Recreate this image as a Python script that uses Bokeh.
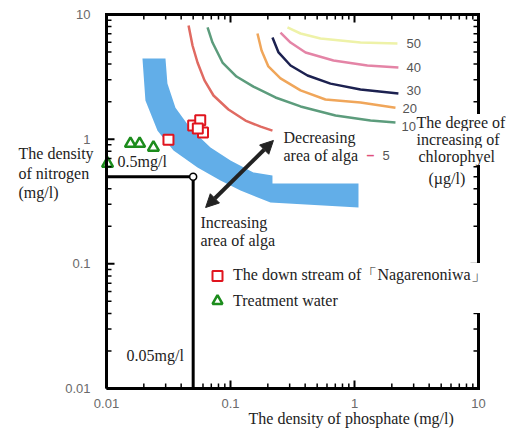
from bokeh.plotting import figure
from bokeh.models import (Range1d, LogAxis, LogTicker, CustomJSTickFormatter, Label,
                          Legend, LegendItem, Arrow, NormalHead, ColumnDataSource)
from bokeh.embed import file_html
from bokeh.resources import INLINE

# ---------------- data ----------------
# thresholds
n_limit = 0.5    # mg/l nitrogen
p_limit = 0.05   # mg/l phosphate

# measured points
down_x = [0.0316, 0.0500, 0.0570, 0.0600, 0.0545]
down_y = [0.99, 1.29, 1.42, 1.13, 1.22]
treat_x = [0.0102, 0.0156, 0.0185, 0.0239]
treat_y = [0.637, 0.92, 0.92, 0.857]
series_names = ["The down stream of「Nagarenoniwa」", "Treatment water"]

# chlorophyll increase contours (ug/l)
c5_x = [0.0459, 0.0494, 0.0542, 0.0617, 0.0729, 0.0963, 0.132, 0.175, 0.218]
c5_y = [8.16, 5.64, 4.12, 2.96, 2.24, 1.73, 1.41, 1.26, 1.17]
c10_x = [0.0653, 0.0716, 0.0862, 0.1118, 0.153, 0.2305, 0.367, 0.703, 1.346, 2.14]
c10_y = [7.87, 5.96, 4.12, 3.18, 2.64, 2.16, 1.83, 1.55, 1.41, 1.36]
c20_x = [0.165, 0.178, 0.202, 0.253, 0.367, 0.583, 1.117, 2.14]
c20_y = [7.04, 5.14, 3.83, 3.07, 2.46, 2.08, 1.97, 1.79]
c30_x = [0.218, 0.244, 0.305, 0.418, 0.640, 1.117, 2.26]
c30_y = [6.54, 4.96, 3.90, 3.24, 2.79, 2.50, 2.32]
c40_x = [0.253, 0.305, 0.403, 0.677, 1.27, 2.26]
c40_y = [7.17, 5.96, 4.96, 4.28, 3.90, 3.76]
c50_x = [0.288, 0.367, 0.532, 1.117, 2.22]
c50_y = [7.87, 7.04, 6.42, 5.96, 5.85]
contour_levels = ["5", "10", "20", "30", "40", "50"]

# boundary band (outer edge then inner edge)
band_x = [0.0299, 0.0310, 0.0360, 0.0476, 0.069, 0.100, 0.153, 0.218, 0.218, 1.077,
          1.077, 0.210, 0.1204, 0.0830, 0.0542, 0.0347, 0.0258, 0.0206, 0.0195]
band_y = [4.44, 2.79, 1.79, 1.22, 0.857, 0.675, 0.541, 0.512, 0.441, 0.441,
          0.283, 0.310, 0.387, 0.466, 0.593, 0.811, 1.17, 2.04, 4.44]

# double arrow between increasing / decreasing areas
arrow_x = [0.063, 0.222]
arrow_y = [0.283, 0.976]

# axes
axis_min, axis_max = 0.01, 10.0
tick_labels = ["0.01", "0.1", "1", "10"]
major_ticks = [0.01, 0.1, 1.0, 10.0]
decade_starts = [0.01, 0.1, 1.0]
mantissas = [2, 3, 4, 5, 6, 7, 8, 9]

# ---------------- layout constants (page pixels) ----------------
W, H = 521, 430
AX_L, AX_R = 106, 478    # x pixel of 0.01 and 10
AX_T, AX_B = 14, 388     # y pixel of 10 and 0.01
PX_DEC_X = (AX_R - AX_L) / 3.0
PX_DEC_Y = (AX_B - AX_T) / 3.0
MAJOR_LEN, MINOR_LEN = 8, 5

def dx(px):
    return axis_min * 10 ** ((px - AX_L) / PX_DEC_X)

def dy(py):
    return axis_min * 10 ** ((AX_B - py) / PX_DEC_Y)

SERIF = "Liberation Serif"
SANS = "Liberation Sans"

# frame covers the whole canvas so that texts outside the chart box are not clipped
p = figure(width=W, height=H, x_axis_type="log", y_axis_type="log",
           x_axis_location=None, y_axis_location=None,
           x_range=Range1d(dx(0), dx(W)), y_range=Range1d(dy(H), dy(0)),
           output_backend="svg", toolbar_location=None, min_border=0)
p.outline_line_color = None
p.grid.visible = False

fmt = CustomJSTickFormatter(args=dict(labels=tick_labels),
                            code="const i = Math.round(Math.log10(tick)) + 2; return (i >= 0 && i < labels.length) ? labels[i] : '';")

def label_axis(side):
    ax = LogAxis(ticker=LogTicker(), formatter=fmt, fixed_location=axis_min,
                 bounds=(axis_min, axis_max))
    ax.axis_line_width = 3
    ax.axis_line_color = "black"
    ax.major_tick_in = ax.major_tick_out = 0
    ax.minor_tick_in = ax.minor_tick_out = 0
    ax.major_tick_line_color = None
    ax.minor_tick_line_color = None
    ax.major_label_text_font = SANS
    ax.major_label_text_font_size = "13px"
    ax.major_label_text_color = "#6a6a6a"
    p.add_layout(ax, side)
    return ax

ax_b = label_axis("below")
ax_l = label_axis("left")
ax_b.major_label_standoff = 10
ax_l.major_label_standoff = 16

# band
p.patch(band_x, band_y, fill_color="#62aee8", line_color=None)

# contours
curves = [(c5_x, c5_y, "#e06a62"), (c10_x, c10_y, "#5c9c7c"), (c20_x, c20_y, "#f0a65a"),
          (c30_x, c30_y, "#1c2150"), (c40_x, c40_y, "#e484a6"), (c50_x, c50_y, "#eef2a8")]
for cx, cy, col in curves:
    p.line(cx, cy, line_color=col, line_width=2.5)

# threshold box
p.line([axis_min, p_limit, p_limit], [n_limit, n_limit, axis_min], line_color="black", line_width=3)
p.scatter([p_limit], [n_limit], marker="circle", size=7, fill_color="white",
          line_color="black", line_width=1.5)

# ---------------- top / right edges and inward ticks (drawn as headless arrows) ----------------
def edge_ticks(ticks, length):
    fx = 10 ** (length / PX_DEC_X)
    fy = 10 ** (length / PX_DEC_Y)
    x0, y0, x1, y1 = [], [], [], []
    for t in ticks:
        # bottom edge (pointing up) and top edge (pointing down)
        x0 += [t, t]; x1 += [t, t]
        y0 += [axis_min, axis_max]; y1 += [axis_min * fy, axis_max / fy]
        # left edge (pointing right) and right edge (pointing left)
        y0 += [t, t]; y1 += [t, t]
        x0 += [axis_min, axis_max]; x1 += [axis_min * fx, axis_max / fx]
    return ColumnDataSource(dict(x0=x0, y0=y0, x1=x1, y1=y1))

minor_ticks = [m * d for d in decade_starts for m in mantissas]
for ticks, length, width in ((major_ticks, MAJOR_LEN, 2), (minor_ticks, MINOR_LEN, 1.5)):
    p.add_layout(Arrow(source=edge_ticks(ticks, length), x_start="x0", y_start="y0",
                       x_end="x1", y_end="y1", start=None, end=None,
                       line_color="black", line_width=width))

hx = 10 ** (1.5 / PX_DEC_X)
hy = 10 ** (1.5 / PX_DEC_Y)
edges = ColumnDataSource(dict(x0=[axis_min / hx, axis_max], y0=[axis_max, axis_max * hy],
                              x1=[axis_max * hx, axis_max], y1=[axis_max, axis_min / hy]))
p.add_layout(Arrow(source=edges, x_start="x0", y_start="y0", x_end="x1", y_end="y1",
                   start=None, end=None, line_color="black", line_width=3))

# double arrow
p.add_layout(Arrow(start=NormalHead(size=13, fill_color="#222222", line_color="#222222"),
                   end=NormalHead(size=13, fill_color="#222222", line_color="#222222"),
                   x_start=arrow_x[0], y_start=arrow_y[0], x_end=arrow_x[1], y_end=arrow_y[1],
                   line_width=4, line_color="#222222"))

# measured points
sq = p.scatter(down_x, down_y, marker="square", size=10, fill_color="white",
               line_color="#e0141e", line_width=2)
tri = p.scatter(treat_x, treat_y, marker="triangle", size=11, fill_color="white",
                line_color="#1c8c1c", line_width=2.5)

legend = Legend(items=[LegendItem(label=series_names[0], renderers=[sq]),
                       LegendItem(label=series_names[1], renderers=[tri])],
                location=(204, 117), orientation="vertical",
                background_fill_color="white", background_fill_alpha=1.0,
                border_line_color=None, padding=0, margin=0, spacing=0,
                glyph_width=26, glyph_height=25, label_height=25, label_standoff=3,
                label_text_font=SERIF, label_text_font_size="16px", label_text_color="#222222")
p.add_layout(legend)

# ---------------- texts ----------------
def txt(px, py, s, size="16px", color="#222222", font=SERIF, align="left", style="normal", bg=None):
    p.add_layout(Label(x=dx(px), y=dy(py), text=s, text_font=font, text_font_size=size,
                       text_color=color, text_align=align, text_baseline="middle",
                       text_font_style=style, background_fill_color=bg))

txt(18, 153, "The density")
txt(18, 173, "of nitrogen")
txt(18, 192, "(mg/l)")
txt(117, 161, "0.5mg/l")
txt(126, 355, "0.05mg/l")
txt(200, 222, "Increasing")
txt(200, 240, "area of alga")
txt(283, 137, "Decreasing")
txt(283, 155, "area of alga")
txt(416, 122, "The degree of", bg="white")
txt(416, 139, "increasing of", bg="white")
txt(418, 156, "chlorophyel", bg="white")
txt(428, 178, "(µg/l)", bg="white")
txt(248, 418, "The density of phosphate  (mg/l)")

# contour labels
lab_pos = [(382, 155), (401, 126), (402, 108), (406, 90), (406, 67), (406, 43)]
for (lx, ly), s in zip(lab_pos, contour_levels):
    txt(lx, ly, s, size="13px", color="#555555", font=SANS)
txt(366, 154, "–", size="14px", color="#e0507a", font=SANS, style="bold")

open("out.html", "w").write(file_html(p, INLINE))
